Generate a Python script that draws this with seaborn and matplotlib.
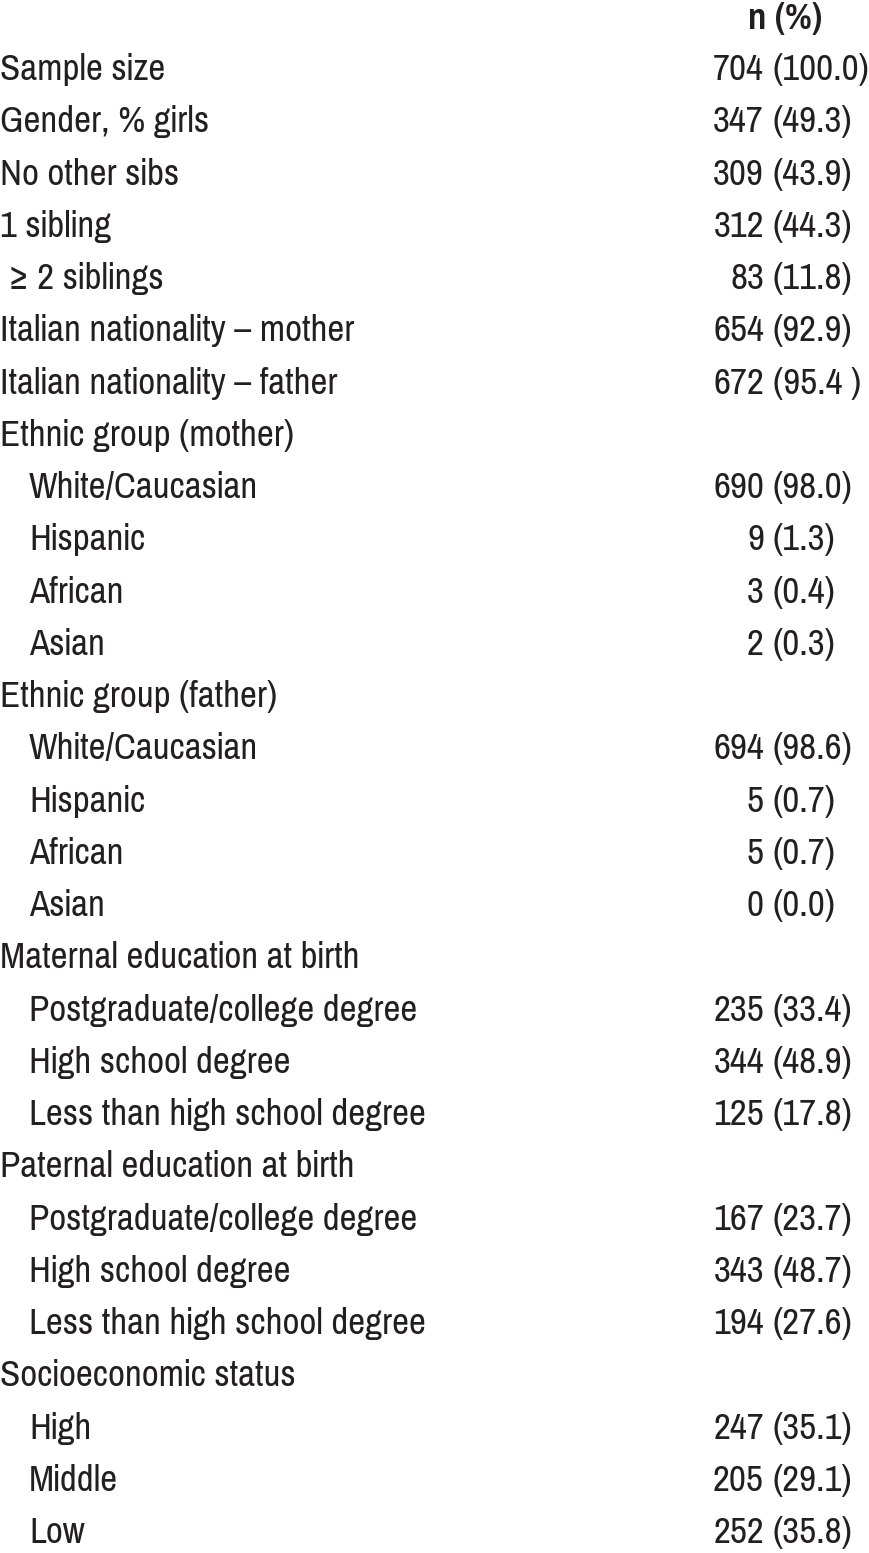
import matplotlib
matplotlib.use("Agg")
import matplotlib.pyplot as plt
from matplotlib import font_manager
import seaborn as sns

# -----------------------------
# Table content
# -----------------------------
labels = [
    "Sample size", "Gender, % girls", "No other sibs", "1 sibling", " \u2265 2 siblings",
    "Italian nationality \u2013 mother", "Italian nationality \u2013 father",
    "Ethnic group (mother)", "White/Caucasian", "Hispanic", "African", "Asian",
    "Ethnic group (father)", "White/Caucasian", "Hispanic", "African", "Asian",
    "Maternal education at birth", "Postgraduate/college degree", "High school degree",
    "Less than high school degree",
    "Paternal education at birth", "Postgraduate/college degree", "High school degree",
    "Less than high school degree",
    "Socioeconomic status", "High", "Middle", "Low",
]
indented = [
    0, 0, 0, 0, 0, 0, 0,
    0, 1, 1, 1, 1,
    0, 1, 1, 1, 1,
    0, 1, 1, 1,
    0, 1, 1, 1,
    0, 1, 1, 1,
]
counts = [
    704, 347, 309, 312, 83, 654, 672,
    None, 690, 9, 3, 2,
    None, 694, 5, 5, 0,
    None, 235, 344, 125,
    None, 167, 343, 194,
    None, 247, 205, 252,
]
percents = [
    "100.0", "49.3", "43.9", "44.3", "11.8", "92.9", "95.4 ",
    None, "98.0", "1.3", "0.4", "0.3",
    None, "98.6", "0.7", "0.7", "0.0",
    None, "33.4", "48.9", "17.8",
    None, "23.7", "48.7", "27.6",
    None, "35.1", "29.1", "35.8",
]
header = "n (%)"

# -----------------------------
# Font: a narrow Arial-like face if there is one
# -----------------------------
sns.set_theme(style="white")
available = {f.name for f in font_manager.fontManager.ttflist}
family = "Liberation Sans"
for cand in ("Liberation Sans Narrow", "Pragati Narrow", "Archivo Narrow"):
    if cand in available:
        family = cand
        break
plt.rcParams["font.family"] = [family, "DejaVu Sans"]

W, H = 870, 1553
fig = plt.figure(figsize=(W / 100, H / 100), dpi=100)
ax = fig.add_axes([0, 0, 1, 1])
ax.set_xlim(0, W)
# row i baseline sits at 80 + 52.25 * i pixels from the top
step, base0 = 52.25, 80
ax.set_ylim((H - base0) / step, -base0 / step)
ax.axis("off")

# size the font so "Sample size" is ~165 px wide, as in the source
probe = ax.text(0, 0, labels[0], fontsize=20)
width = probe.get_window_extent(fig.canvas.get_renderer()).width
probe.remove()
fs = 20 * 165 / width

ink = "#231f20"

ax.text(785, (29 - base0) / step, header, ha="center", va="baseline",
        fontsize=fs, fontweight="bold", color=ink)

for i, (lab, ind, n, p) in enumerate(zip(labels, indented, counts, percents)):
    ax.text(29 if ind else 0, i, lab, ha="left", va="baseline", fontsize=fs, color=ink)
    if n is not None:
        ax.text(764, i, str(n), ha="right", va="baseline", fontsize=fs, color=ink)
        ax.text(773, i, f"({p})", ha="left", va="baseline", fontsize=fs, color=ink)

fig.savefig("out.png", dpi=100, facecolor="white")
